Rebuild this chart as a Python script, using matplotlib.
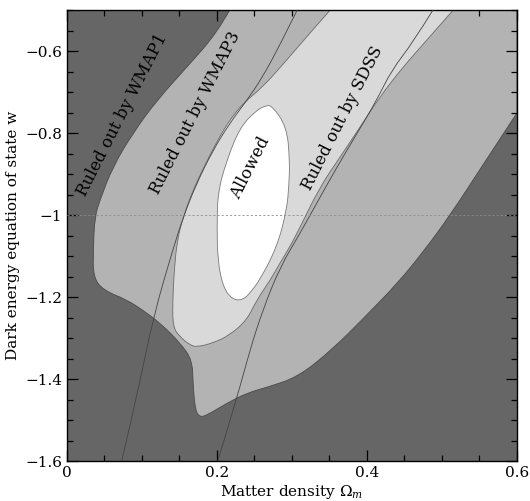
import matplotlib.pyplot as plt
from matplotlib.path import Path
from matplotlib.patches import PathPatch
from matplotlib.ticker import MultipleLocator

# Boundary of the region allowed by WMAP1 (medium grey)
wmap1_om = [0.217, 0.200, 0.160, 0.120, 0.088, 0.061, 0.044, 0.037, 0.035, 0.035,
            0.048, 0.080, 0.101, 0.124, 0.151, 0.167, 0.168, 0.171, 0.177, 0.187,
            0.213, 0.240, 0.267, 0.308, 0.353, 0.397, 0.441, 0.477, 0.511, 0.556,
            0.600, 0.600]
wmap1_w = [-0.500, -0.556, -0.639, -0.720, -0.800, -0.883, -0.963, -1.005, -1.085, -1.151,
           -1.183, -1.207, -1.232, -1.263, -1.312, -1.354, -1.410, -1.476, -1.493, -1.488,
           -1.459, -1.434, -1.420, -1.395, -1.329, -1.249, -1.166, -1.085, -1.000, -0.874,
           -0.751, -0.500]

# Boundary of the region allowed by WMAP3 (light grey)
wmap3_om = [0.351, 0.324, 0.293, 0.261, 0.235, 0.217, 0.201, 0.184, 0.168, 0.155,
            0.147, 0.143, 0.141, 0.141, 0.151, 0.164, 0.173, 0.195, 0.217, 0.240,
            0.253, 0.271, 0.284, 0.297, 0.311, 0.337, 0.364, 0.391, 0.417, 0.448,
            0.480, 0.515]
wmap3_w = [-0.500, -0.556, -0.622, -0.688, -0.727, -0.768, -0.817, -0.878, -0.939, -1.005,
           -1.061, -1.134, -1.207, -1.273, -1.298, -1.317, -1.322, -1.312, -1.293, -1.256,
           -1.207, -1.159, -1.117, -1.078, -1.029, -0.932, -0.859, -0.785, -0.712, -0.639,
           -0.573, -0.500]

# Region allowed by WMAP3 + SDSS (white)
allowed_om = [0.273, 0.293, 0.297, 0.296, 0.293, 0.280, 0.257, 0.244, 0.235, 0.221,
              0.208, 0.201, 0.200, 0.201, 0.213, 0.231, 0.253, 0.264]
allowed_w = [-0.732, -0.785, -0.866, -0.927, -0.988, -1.078, -1.159, -1.190, -1.207, -1.207,
             -1.176, -1.110, -1.029, -0.946, -0.866, -0.785, -0.744, -0.734]

# SDSS band edges (thin lines)
sdss_lo_om = [0.073, 0.095, 0.115, 0.141, 0.155, 0.173, 0.195, 0.217, 0.240, 0.261, 0.284, 0.307]
sdss_lo_w = [-1.600, -1.427, -1.249, -1.085, -1.005, -0.922, -0.841, -0.776, -0.720, -0.663, -0.585, -0.500]
sdss_hi_om = [0.201, 0.227, 0.244, 0.261, 0.284, 0.311, 0.333, 0.360, 0.387, 0.413, 0.433, 0.461, 0.488]
sdss_hi_w = [-1.600, -1.444, -1.329, -1.232, -1.127, -1.044, -0.971, -0.883, -0.800, -0.720, -0.646, -0.580, -0.500]


def smooth_path(xs, ys, corners=(), closed=False):
    # quadratic bezier through midpoints, the listed vertices are kept as sharp corners
    pts = list(zip(xs, ys))
    n = len(pts)
    mid = lambda a, b: ((a[0] + b[0]) / 2, (a[1] + b[1]) / 2)
    if closed:
        verts = [mid(pts[-1], pts[0])]
        codes = [Path.MOVETO]
        for i in range(n):
            verts += [pts[i], mid(pts[i], pts[(i + 1) % n])]
            codes += [Path.CURVE3, Path.CURVE3]
        verts.append(verts[0])
        codes.append(Path.CLOSEPOLY)
        return Path(verts, codes)
    corners = set(c % n for c in corners) | {0, n - 1}
    verts = [pts[0]]
    codes = [Path.MOVETO]
    for i in range(1, n - 1):
        if i in corners:
            verts.append(pts[i])
            codes.append(Path.LINETO)
        else:
            nxt = pts[i + 1] if (i + 1) in corners else mid(pts[i], pts[i + 1])
            verts += [pts[i], nxt]
            codes += [Path.CURVE3, Path.CURVE3]
    verts.append(pts[-1])
    codes.append(Path.LINETO)
    return Path(verts, codes)


plt.rcParams['font.family'] = 'DejaVu Serif'
plt.rcParams['mathtext.fontset'] = 'dejavuserif'

fig = plt.figure(figsize=(5.30, 5.01), dpi=100)
ax = fig.add_axes([0.1264, 0.0798, 0.849, 0.9002])
ax.set_facecolor('#666666')

p1 = smooth_path(wmap1_om + [wmap1_om[0]], wmap1_w + [wmap1_w[0]], corners=[-2, -3])
ax.add_patch(PathPatch(p1, facecolor='#b3b3b3', edgecolor='#4a4a4a', linewidth=0.6, zorder=1))
p3 = smooth_path(wmap3_om + [wmap3_om[0]], wmap3_w + [wmap3_w[0]], corners=[-2])
ax.add_patch(PathPatch(p3, facecolor='#d9d9d9', edgecolor='#6a6a6a', linewidth=0.6, zorder=2))
pa = smooth_path(allowed_om, allowed_w, closed=True)
ax.add_patch(PathPatch(pa, facecolor='white', edgecolor='#7a7a7a', linewidth=0.6, zorder=3))
for xs, ys in [(sdss_lo_om, sdss_lo_w), (sdss_hi_om, sdss_hi_w)]:
    ax.add_patch(PathPatch(smooth_path(xs, ys), facecolor='none', edgecolor='#444444',
                           linewidth=0.6, zorder=4))
ax.axhline(-1, color='#8c8c8c', linewidth=0.6, linestyle=(0, (2.5, 2.5)), zorder=5)

# labels along the contours
lab = dict(fontsize=12, rotation=63, ha='center', va='center', rotation_mode='anchor', zorder=6)
ax.text(0.074, -0.757, 'Ruled out by WMAP1', **lab)
ax.text(0.171, -0.750, 'Ruled out by WMAP3', **lab)
ax.text(0.245, -0.885, 'Allowed', **lab)
ax.text(0.368, -0.763, 'Ruled out by SDSS', **lab)

ax.set_xlim(0, 0.6)
ax.set_ylim(-1.6, -0.5)
ax.xaxis.set_minor_locator(MultipleLocator(0.05))
ax.yaxis.set_minor_locator(MultipleLocator(0.05))
ax.set_xticks([0, 0.2, 0.4, 0.6])
ax.set_xticklabels(['0', '0.2', '0.4', '0.6'])
ax.set_yticks([-1.6, -1.4, -1.2, -1.0, -0.8, -0.6])
ax.set_yticklabels(['\u22121.6', '\u22121.4', '\u22121.2', '\u22121', '\u22120.8', '\u22120.6'])
ax.tick_params(which='both', direction='in', top=True, right=True, labelsize=11, width=0.9)
ax.tick_params(which='major', length=8)
ax.tick_params(which='minor', length=4.5)
for s in ax.spines.values():
    s.set_linewidth(1.0)

ax.set_xlabel(r'Matter density $\Omega_m$', fontsize=11, labelpad=2)
ax.set_ylabel('Dark energy equation of state w', fontsize=11, labelpad=4)

fig.savefig('out.png', dpi=100)
plt.close()
